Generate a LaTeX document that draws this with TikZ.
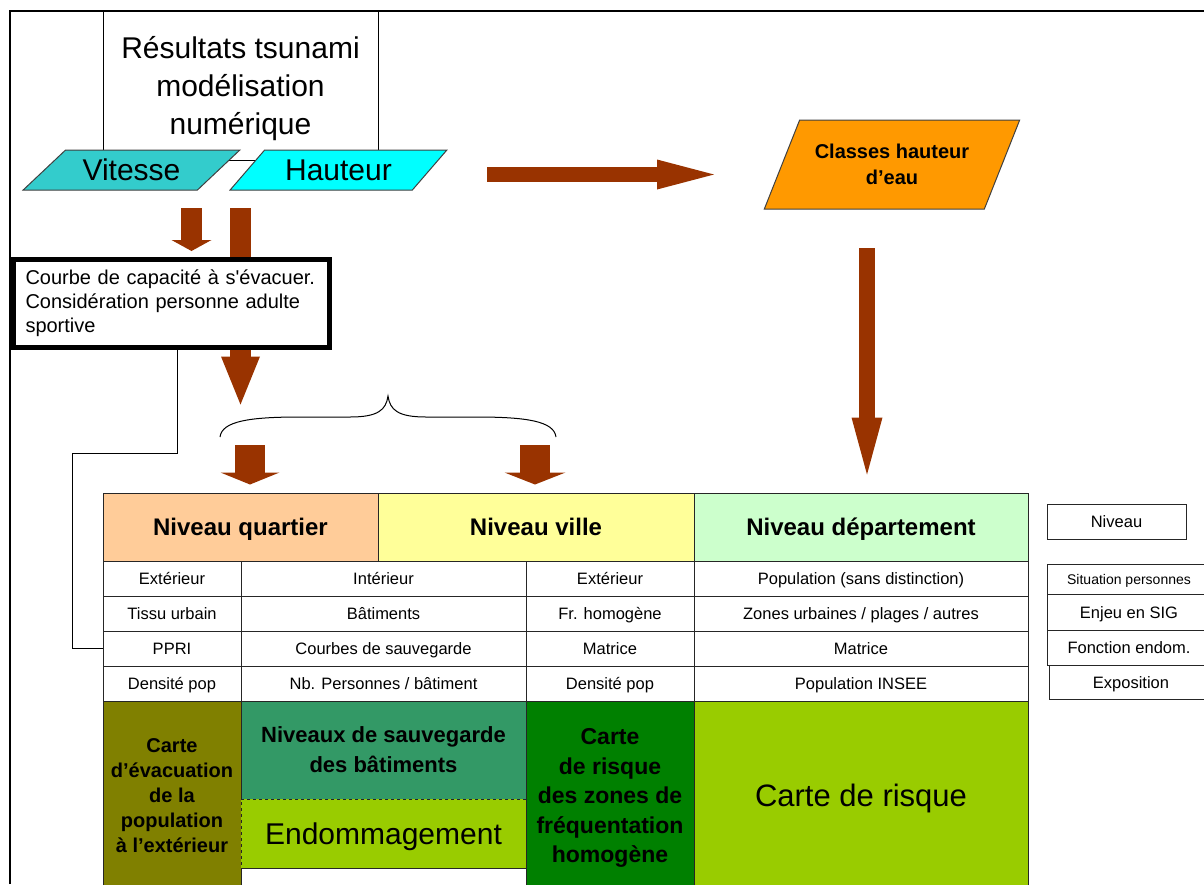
\documentclass[tikz,border=0pt]{standalone}
\usepackage{fontspec}
\setmainfont{Liberation Sans}
\usepackage{tikz}
\usetikzlibrary{positioning}
\usetikzlibrary{shapes.geometric}
\usetikzlibrary{arrows.meta}
\usepackage{xcolor}
\definecolor{arrowbrown}{HTML}{993300}
\definecolor{paleorange}{HTML}{FFCC99}
\definecolor{paleyellow}{HTML}{FFFF99}
\definecolor{palegreen}{HTML}{CCFFCC}
\definecolor{olivecell}{HTML}{808000}
\definecolor{seagreen}{HTML}{339966}
\definecolor{limegreen}{HTML}{99CC00}
\definecolor{darkgreen}{HTML}{008000}
\definecolor{orangefill}{HTML}{FF9900}
\definecolor{tealfill}{HTML}{33CCCC}
\definecolor{cyanfill}{HTML}{00FFFF}

\begin{document}
\begin{tikzpicture}[x=1pt, y=-1pt,
    cell/.style={draw=black!85, line width=1pt, fill=white, minimum height=35pt, inner sep=0pt, text height=12pt, text depth=0pt, font=\fontsize{16.5}{18}\selectfont},
    header/.style={draw=black!85, line width=1pt, minimum height=68pt, inner sep=0pt, text height=17pt, text depth=0pt, font=\fontsize{24}{28}\selectfont\bfseries},
    result/.style={draw=black!85, line width=1pt, inner sep=0pt, align=center},
    para/.style={trapezium, trapezium stretches=true, draw=black!75, line width=1pt, inner sep=0pt},
    fatarrow/.style={draw=arrowbrown}]
    \useasboundingbox (0,0) rectangle (1204,884);
    \clip (0,0) rectangle (1204,884);

    % Frame
    \draw[line width=1.5pt] (10,884) -- (10,11) -- (1204,11);

    % Model results
    \node[draw, line width=1pt, minimum width=275pt, minimum height=149pt, align=center, text depth=0pt, font=\fontsize{30}{38}\selectfont] (resultats) at (240.5,85.5) {Résultats tsunami\\modélisation\\numérique};
    \node[para, fill=tealfill, minimum width=217pt, minimum height=40pt, trapezium left angle=35, trapezium right angle=145, font=\fontsize{30}{36}\selectfont] (vitesse) at (131.5,170) {Vitesse};
    \node[para, fill=cyanfill, minimum width=217pt, minimum height=40pt, trapezium left angle=40, trapezium right angle=140, font=\fontsize{30}{36}\selectfont] (hauteur) at (338.5,170) {Hauteur};
    \node[para, fill=orangefill, minimum width=256pt, minimum height=89pt, trapezium left angle=54, trapezium right angle=126, align=center, font=\fontsize{20}{26}\selectfont\bfseries] (classes) at (892,164.5) {Classes hauteur\\d’eau};

    % Levels
    \node[header, fill=paleorange, minimum width=275pt] (quartier) at (240.5,527) {Niveau quartier};
    \node[header, fill=paleyellow, minimum width=316pt] (ville) at (536,527) {Niveau ville};
    \node[header, fill=palegreen, minimum width=334pt] (departement) at (861,527) {Niveau département};

    % Situation of persons
    \node[cell, minimum width=138pt] (exterieurq) at (172,578.5) {Extérieur};
    \node[cell, minimum width=285pt] (interieur) at (383.5,578.5) {Intérieur};
    \node[cell, minimum width=168pt] (exterieurv) at (610,578.5) {Extérieur};
    \node[cell, minimum width=334pt] (population) at (861,578.5) {Population (sans distinction)};
    % Stakes in GIS
    \node[cell, minimum width=138pt] (tissu) at (172,613.5) {Tissu urbain};
    \node[cell, minimum width=285pt] (batiments) at (383.5,613.5) {Bâtiments};
    \node[cell, minimum width=168pt] (homogene) at (610,613.5) {Fr. homogène};
    \node[cell, minimum width=334pt] (zonesurb) at (861,613.5) {Zones urbaines / plages / autres};
    % Damage functions
    \node[cell, minimum width=138pt] (ppri) at (172,648.5) {PPRI};
    \node[cell, minimum width=285pt] (courbes) at (383.5,648.5) {Courbes de sauvegarde};
    \node[cell, minimum width=168pt] (matriceville) at (610,648.5) {Matrice};
    \node[cell, minimum width=334pt] (matricedep) at (861,648.5) {Matrice};
    % Exposure
    \node[cell, minimum width=138pt] (densiteq) at (172,683.5) {Densité pop};
    \node[cell, minimum width=285pt] (nbpers) at (383.5,683.5) {Nb. Personnes / bâtiment};
    \node[cell, minimum width=168pt] (densitev) at (610,683.5) {Densité pop};
    \node[cell, minimum width=334pt] (insee) at (861,683.5) {Population INSEE};

    % Maps
    \node[result, fill=olivecell, minimum width=138pt, minimum height=189pt, font=\fontsize{20}{25}\selectfont\bfseries] (evacuation) at (172,795.5) {Carte\\d’évacuation\\de la\\population\\à l’extérieur};
    \node[result, fill=seagreen, minimum width=285pt, minimum height=98pt, font=\fontsize{22}{30}\selectfont\bfseries] (sauvegarde) at (383.5,750) {Niveaux de sauvegarde\\des bâtiments};
    \node[result, dashed, fill=limegreen, minimum width=285pt, minimum height=69pt, text depth=0pt, font=\fontsize{30}{34}\selectfont] (endommagement) at (383.5,833.5) {Endommagement};
    \node[result, fill=white, minimum width=285pt, minimum height=22pt] (vide) at (383.5,879) {};
    \node[result, fill=darkgreen, minimum width=168pt, minimum height=189pt, text depth=0pt, font=\fontsize{23}{29.5}\selectfont\bfseries] (zones) at (610,795.5) {Carte\\de risque\\des zones de\\fréquentation\\homogène};
    \node[result, fill=limegreen, minimum width=334pt, minimum height=189pt, text depth=0pt, font=\fontsize{31}{36}\selectfont] (risque) at (861,795.5) {Carte de risque};

    % Legend
    \node[cell, minimum width=139pt] (niveau) at (1116.5,521.5) {Niveau};
    \node[cell, minimum width=164pt, minimum height=30pt, text height=10pt, font=\fontsize{14}{16}\selectfont] (situation) at (1129,579) {Situation personnes};
    \node[cell, minimum width=164pt, minimum height=36pt] (enjeu) at (1129,612) {Enjeu en SIG};
    \node[cell, minimum width=164pt] (fonction) at (1129,647.5) {Fonction endom.};
    \node[cell, minimum width=164pt, minimum height=34pt] (exposition) at (1131,682) {Exposition};

    % Brace over quartier and ville
    \coordinate (bl) at (220,437);
    \coordinate (bm) at (388,396);
    \coordinate (br) at (556,437);
    \draw[line width=1pt] (bl) .. controls (222,421) and (250,417) .. (300,417) -- (350,417) .. controls (378,417) and (386,410) .. (bm) .. controls (390,410) and (398,417) .. (426,417) -- (476,417) .. controls (526,417) and (554,421) .. (br);

    % Height to neighbourhood (behind the box)
    \draw[fatarrow, line width=21pt, -{Triangle[width=39pt,length=48pt,line width=0pt,fill=arrowbrown]}] ([shift={(-98,38)}]hauteur.center) -- ([shift={(0,-88)}]quartier.north);

    % Evacuation capacity
    \node[draw, line width=5pt, fill=white, minimum width=316pt, minimum height=88pt, text width=292pt, align=left, inner sep=0pt, font=\fontsize{20}{24}\selectfont] (courbe) at (171.5,303) {Courbe de capacité à s\textquotesingle évacuer.\\Considération personne adulte\\sportive};
    \draw[fatarrow, line width=21pt, -{Triangle[width=40pt,length=11pt,line width=0pt,fill=arrowbrown]}] ([shift={(60,38)}]vitesse.center) -- ([shift={(20,-5.5)}]courbe.north);
    \draw[line width=1pt] ([xshift=5.5pt]courbe.south) -- ++(0,103.5) -- ++(-105,0) |- (ppri.west);

    % Down to the levels
    \draw[fatarrow, line width=30pt, -{Triangle[width=59pt,length=12pt,line width=0pt,fill=arrowbrown]}] ([shift={(30,8)}]bl) -- ([shift={(9.5,-8)}]quartier.north);
    \draw[fatarrow, line width=30pt, -{Triangle[width=61pt,length=12pt,line width=0pt,fill=arrowbrown]}] ([shift={(-21,8)}]br) -- ([shift={(-1,-8)}]ville.north);

    % Water height classes
    \draw[fatarrow, line width=15pt, -{Triangle[width=30pt,length=57pt,line width=0pt,fill=arrowbrown]}] ([shift={(148.5,4.5)}]hauteur.center) -- ([shift={(-178,10)}]classes.center);
    \draw[fatarrow, line width=16pt, -{Triangle[width=31pt,length=57pt,line width=0pt,fill=arrowbrown]}] ([shift={(-25,83.5)}]classes.center) -- ([shift={(6,-18)}]departement.north);
\end{tikzpicture}
\end{document}
